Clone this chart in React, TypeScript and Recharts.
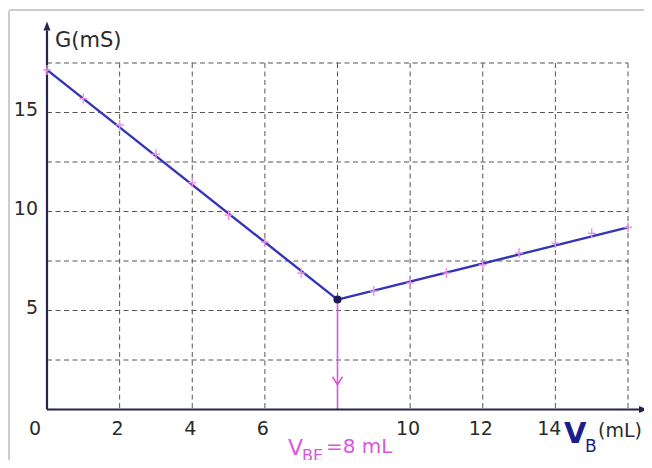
import React from "react";
import {
  ComposedChart,
  Line,
  Scatter,
  XAxis,
  YAxis,
  CartesianGrid,
  ReferenceLine,
  ReferenceDot,
} from "recharts";

// volume of titrant added (mL) and measured conductance (mS)
const measuredVolume = [0, 1, 2, 3, 4, 5, 6, 7, 8, 9, 10, 11, 12, 13, 14, 15, 16];
const measuredConductance = [
  17.15, 15.7, 14.37, 12.9, 11.46, 9.82, 8.46, 6.89, 5.53, 5.98, 6.39, 6.89, 7.3,
  7.9, 8.4, 8.9, 9.2,
];

// the two fitted straight segments, meeting at the equivalence point
const fitBefore = [
  { v: 0, g: 17.15 },
  { v: 8, g: 5.55 },
];
const fitAfter = [
  { v: 8, g: 5.55 },
  { v: 16, g: 9.2 },
];
const equivalence = { v: 8, g: 5.55 };

const volumeTicks = [0, 2, 4, 6, 8, 10, 12, 14, 16];
const volumeLabels = [0, 2, 4, 6, 10, 12, 14];
const conductanceTicks = [0, 2.5, 5, 7.5, 10, 12.5, 15, 17.5];
const conductanceLabels = [5, 10, 15];

const FONT = '"DejaVu Sans", sans-serif';
const TEXT = "#2a2a2a";
const AXIS = "#24244e";
const FIT = "#3434b8";
const PINK = "#dc55dc";

const points = measuredVolume.map((v, i) => ({ v, g: measuredConductance[i] }));

const VolumeTick = (props: any) => {
  const { x, y, payload } = props;
  if (!volumeLabels.includes(payload.value)) return <g />;
  let dx = -2;
  if (payload.value === 0) dx = -12;
  if (payload.value === 14) dx = -6;
  return (
    <text x={x + dx} y={y + 25} textAnchor="middle" fontSize={19} fontFamily={FONT} fill={TEXT}>
      {payload.value}
    </text>
  );
};

const ConductanceTick = (props: any) => {
  const { x, y, payload } = props;
  if (!conductanceLabels.includes(payload.value)) return <g />;
  return (
    <text x={x} y={y + 3} textAnchor="end" fontSize={19} fontFamily={FONT} fill={TEXT}>
      {payload.value}
    </text>
  );
};

// axis line with a filled arrow head at its end
const ArrowLine = (props: any) => {
  const { x1, y1, x2, y2 } = props;
  const a = Math.atan2(y2 - y1, x2 - x1);
  const len = 9;
  const half = 3.5;
  const bx = x2 - len * Math.cos(a);
  const by = y2 - len * Math.sin(a);
  const px = -Math.sin(a) * half;
  const py = Math.cos(a) * half;
  return (
    <g>
      <line x1={x1} y1={y1} x2={bx} y2={by} stroke={AXIS} strokeWidth={2.2} />
      <polygon
        points={`${x2},${y2} ${bx + px},${by + py} ${bx - px},${by - py}`}
        fill={AXIS}
      />
    </g>
  );
};

const PlainLine = (props: any) => (
  <line x1={props.x1} y1={props.y1} x2={props.x2} y2={props.y2} stroke={PINK} strokeWidth={1.6} />
);

const Chevron = (props: any) => {
  const { cx, cy } = props;
  return (
    <polyline
      points={`${cx - 5},${cy - 8} ${cx},${cy} ${cx + 5},${cy - 8}`}
      fill="none"
      stroke={PINK}
      strokeWidth={1.6}
    />
  );
};

const Cross = (props: any) => {
  const { cx, cy } = props;
  return (
    <g stroke="#ee8fe4" strokeWidth={1.4}>
      <line x1={cx - 4} y1={cy} x2={cx + 4} y2={cy} />
      <line x1={cx} y1={cy - 5} x2={cx} y2={cy + 5} />
    </g>
  );
};

const KinkDot = (props: any) => <circle cx={props.cx} cy={props.cy} r={4} fill="#1c1c52" />;

export default function App() {
  return (
    <div style={{ position: "relative", width: 644, height: 452, fontFamily: FONT }}>
      <div
        style={{
          position: "absolute",
          left: 0,
          top: 1,
          width: 643,
          height: 459,
          boxSizing: "border-box",
          borderTop: "2px solid #cdcdcd",
          borderLeft: "2px solid #cdcdcd",
          borderRight: "2px solid #cdcdcd",
          borderRadius: "3px 3px 0 0",
        }}
      />
      <div style={{ position: "absolute", left: 0, top: 0 }}>
        <ComposedChart
          width={644}
          height={452}
          margin={{ top: 55, right: 24, bottom: 20.5, left: 9 }}
        >
          <CartesianGrid stroke="#555" strokeDasharray="5 3.5" strokeWidth={1} />
          <XAxis
            type="number"
            dataKey="v"
            domain={[0, 16]}
            ticks={volumeTicks}
            axisLine={false}
            tickLine={false}
            tickSize={0}
            tickMargin={0}
            height={30}
            tick={<VolumeTick />}
            interval={0}
          />
          <YAxis
            type="number"
            dataKey="g"
            domain={[0, 17.5]}
            ticks={conductanceTicks}
            axisLine={false}
            tickLine={false}
            tickSize={0}
            tickMargin={9}
            width={30}
            tick={<ConductanceTick />}
            interval={0}
          />
          <Scatter data={points} dataKey="g" shape={<Cross />} isAnimationActive={false} />
          <ReferenceLine
            segment={[
              { x: equivalence.v, y: equivalence.g },
              { x: equivalence.v, y: 0 },
            ]}
            ifOverflow="visible"
            shape={<PlainLine />}
          />
          <ReferenceDot x={equivalence.v} y={1.25} ifOverflow="visible" shape={<Chevron />} />
          <ReferenceLine
            segment={[
              { x: 0, y: 0 },
              { x: 16.55, y: 0 },
            ]}
            ifOverflow="visible"
            shape={<ArrowLine />}
          />
          <ReferenceLine
            segment={[
              { x: 0, y: 0 },
              { x: 0, y: 19.6 },
            ]}
            ifOverflow="visible"
            shape={<ArrowLine />}
          />
          <Line
            data={fitBefore}
            dataKey="g"
            type="linear"
            stroke={FIT}
            strokeWidth={2.4}
            dot={false}
            isAnimationActive={false}
          />
          <Line
            data={fitAfter}
            dataKey="g"
            type="linear"
            stroke={FIT}
            strokeWidth={2.4}
            dot={false}
            isAnimationActive={false}
          />
          <ReferenceDot
            x={equivalence.v}
            y={equivalence.g}
            ifOverflow="visible"
            shape={<KinkDot />}
          />
        </ComposedChart>
      </div>
      <svg
        width={644}
        height={460}
        style={{ position: "absolute", left: 0, top: 0, pointerEvents: "none" }}
      >
        <text x={47} y={39} fontSize={21} fontFamily={FONT} fill={TEXT}>
          G(mS)
        </text>
        <text x={556} y={435} fontSize={29} fontWeight="bold" fontFamily={FONT} fill="#1c1c8c">
          V
        </text>
        <text x={577} y={444} fontSize={17} fontFamily={FONT} fill="#1c1c8c">
          B
        </text>
        <text x={590} y={429} fontSize={19} fontFamily={FONT} fill={TEXT}>
          (mL)
        </text>
        <text x={280} y={447} fontSize={22} fontFamily={FONT} fill={PINK}>
          V
        </text>
        <text x={294} y={453} fontSize={16} fontFamily={FONT} fill={PINK}>
          BE
        </text>
        <text x={318} y={445} fontSize={20} fontFamily={FONT} fill={PINK}>
          =8 mL
        </text>
      </svg>
    </div>
  );
}
